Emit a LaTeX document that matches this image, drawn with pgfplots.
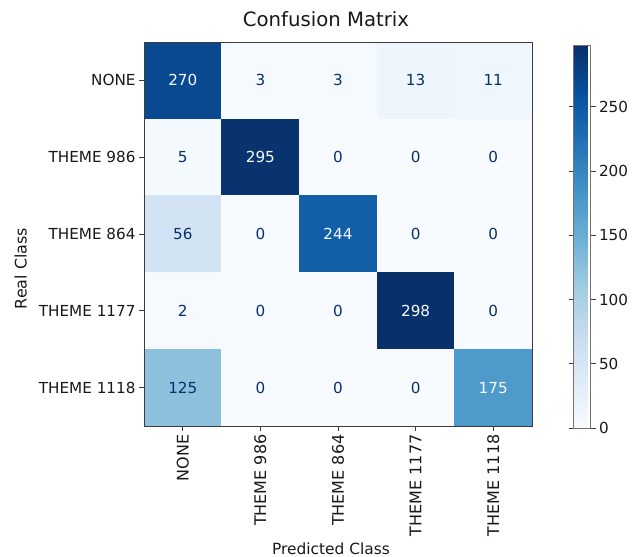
\documentclass[border=0pt]{standalone}
\usepackage{pgfplots}
\pgfplotsset{compat=1.18}
\usepackage{fontspec}
\setmainfont{DejaVu Sans}
\definecolor{txtdark}{RGB}{8,48,107}
\definecolor{txtlight}{RGB}{247,251,255}
\definecolor{spine}{RGB}{60,60,60}
\newcommand{\fs}{\fontsize{15.2bp}{18bp}\selectfont}
\begin{document}
\begin{tikzpicture}
\useasboundingbox (-144bp,-131bp) rectangle (491bp,426bp);
\begin{axis}[
  scale only axis, width=388bp, height=384bp,
  xmin=-0.5, xmax=4.5, ymin=-0.5, ymax=4.5, y dir=reverse,
  xtick={0,1,2,3,4}, ytick={0,1,2,3,4},
  xticklabels={NONE, THEME 986, THEME 864, THEME 1177, THEME 1118},
  yticklabels={NONE, THEME 986, THEME 864, THEME 1177, THEME 1118},
  x tick label style={rotate=90, anchor=east, font=\fontsize{16bp}{18bp}\selectfont},
  tick align=outside, tick pos=left, major tick length=5bp,
  tick style={spine, line width=0.8bp},
  axis line style={spine, line width=0.8bp},
  ticklabel style={font=\fs, text=black!90},
  label style={font=\fs, text=black!90},
  xlabel style={at={(axis description cs:0.482,0)}, anchor=center, yshift=-123bp, font=\fontsize{15.4bp}{18bp}\selectfont},
  ylabel style={at={(axis description cs:-0.318,0.41)}, anchor=center, font=\fontsize{15.9bp}{18bp}\selectfont},
  title style={at={(axis description cs:0.469,1)}, anchor=center, yshift=17bp, font=\fontsize{19.7bp}{22bp}\selectfont, text=black!90},
  title={Confusion Matrix},
  xlabel={Predicted Class}, ylabel={Real Class},
  colormap={blues}{rgb255=(247,251,255) rgb255=(222,235,247) rgb255=(198,219,239) rgb255=(158,202,225) rgb255=(107,174,214) rgb255=(66,146,198) rgb255=(33,113,181) rgb255=(8,81,156) rgb255=(8,48,107)},
  point meta min=0, point meta max=298,
  colorbar,
  colorbar style={
    scale only axis, width=17bp, height=383bp,
    at={(parent axis.north east)}, anchor=north west, xshift=33bp, yshift=-3bp,
    ytick={0,50,100,150,200,250},
    tick align=outside, major tick length=5bp,
    tick style={spine, line width=0.8bp},
    axis line style={black!55, line width=0.8bp},
    yticklabel style={font=\fs, text=black!90},
    /pgf/number format/assume math mode=true,
  },
  axis on top,
]
\addplot[matrix plot*, mesh/cols=5, point meta=explicit] table[meta=c] {
x y c
0 0 270
1 0 3
2 0 3
3 0 13
4 0 11
0 1 5
1 1 295
2 1 0
3 1 0
4 1 0
0 2 56
1 2 0
2 2 244
3 2 0
4 2 0
0 3 2
1 3 0
2 3 0
3 3 298
4 3 0
0 4 125
1 4 0
2 4 0
3 4 0
4 4 175
};
% dark text (values below threshold)
\addplot[only marks, mark=none, point meta=explicit symbolic,
  nodes near coords={\pgfplotspointmeta}, nodes near coords align={center},
  every node near coord/.append style={font=\fs, text=txtdark}] table[meta=c] {
x y c
1 0 3
2 0 3
3 0 13
4 0 11
0 1 5
2 1 0
3 1 0
4 1 0
0 2 56
1 2 0
3 2 0
4 2 0
0 3 2
1 3 0
2 3 0
4 3 0
0 4 125
1 4 0
2 4 0
3 4 0
};
% light text (values above threshold)
\addplot[only marks, mark=none, point meta=explicit symbolic,
  nodes near coords={\pgfplotspointmeta}, nodes near coords align={center},
  every node near coord/.append style={font=\fs, text=txtlight}] table[meta=c] {
x y c
0 0 270
1 1 295
2 2 244
3 3 298
4 4 175
};
\end{axis}
\end{tikzpicture}
\end{document}
